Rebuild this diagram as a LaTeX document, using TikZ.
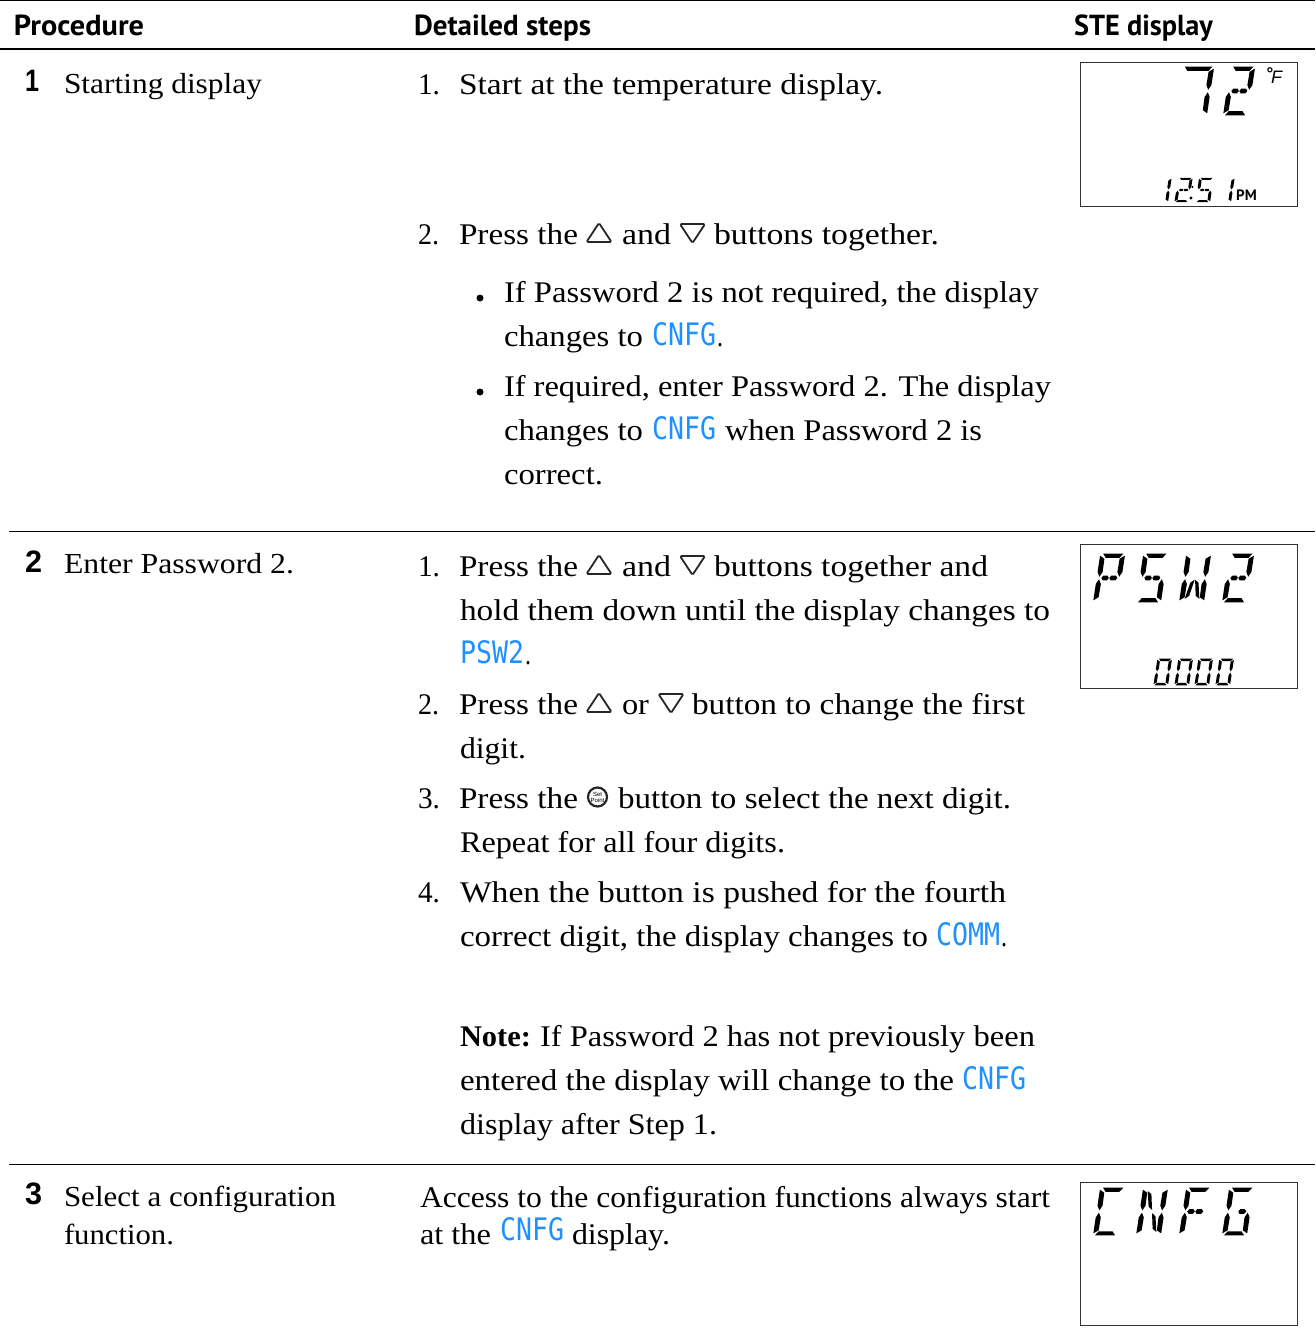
\documentclass[tikz,border=0pt]{standalone}
\usepackage{fontspec}
\usepackage{graphicx}
\setmainfont{Liberation Serif}
\newfontfamily\headfont[FakeStretch=1]{PT Sans}
\newfontfamily\numfont{Liberation Sans}
\newfontfamily\lcdfont[FakeStretch=0.8]{DejaVu Sans Mono}
\definecolor{lcdblue}{HTML}{1E90FF}
\definecolor{framegray}{HTML}{333333}
\tikzset{
  txt/.style={inner sep=0pt,outer sep=0pt,anchor=base west,yshift=0.5pt,font=\fontsize{30}{36}\selectfont},
  head/.style={txt,font=\fontsize{29}{34}\selectfont\headfont\bfseries},
  stepnum/.style={txt,font=\fontsize{31}{36}\selectfont\numfont\bfseries},
  rulethin/.style={line width=1pt,draw=black},
  rulethick/.style={line width=2pt,draw=black},
  lcdframe/.style={draw=framegray,line width=1.2pt,fill=white,inner sep=0pt,outer sep=0pt,anchor=north west,minimum width=217.4pt},
  btn/.style={draw=black!85,line width=1.8pt,rounded corners=1.5pt},
}
% text fitted to its exact extent: #2 name, #3 left, #4 right, #5 baseline, #6 text
\newcommand{\TL}[6][txt]{\node[#1] (#2) at (#3,#5) {\resizebox{\dimexpr #4pt-#3pt\relax}{\height}{#6}};}
% inline LCD word
\newcommand{\LW}[5]{\node[txt] (#1) at (#2,#4) {\resizebox{\dimexpr #3pt-#2pt\relax}{23pt}{\lcdfont\fontsize{32}{36}\selectfont\color{lcdblue}#5}};}
\newcommand{\triup}[3]{\coordinate (#1) at (#2,#3); \draw[btn] ([shift={(0,-3)}]#1) -- ++(25,0) -- ++(-12.5,-19) -- cycle;}
\newcommand{\tridown}[3]{\coordinate (#1) at (#2,#3); \draw[btn] ([shift={(0,-21)}]#1) -- ++(25,0) -- ++(-12.5,19) -- cycle;}
% seven segment cell 10 x 20, y upward
\def\segA{\fill (0.8,20.2) -- (9.7,20.2) -- (8.2,18.4) -- (2.2,18.4) -- cycle;}
\def\segL{\fill (-2.4,20.2) -- (9.7,20.2) -- (8.2,18.4) -- (-1,18.4) -- cycle;}
\def\segD{\fill (0.4,-0.2) -- (9.2,-0.2) -- (7.8,1.6) -- (1.8,1.6) -- cycle;}
\def\segB{\fill (10.4,19.3) -- (10.4,12.5) -- (9.3,10.5) -- (8.2,12.5) -- (8.3,18) -- cycle;}
\def\segC{\fill (10.4,0.7) -- (10.4,7.5) -- (9.3,9.5) -- (8.2,7.5) -- (8.3,2) -- cycle;}
\def\segF{\fill (-0.4,19.3) -- (-0.4,12.5) -- (0.7,10.5) -- (1.8,12.5) -- (1.7,18) -- cycle;}
\def\segE{\fill (-0.4,0.7) -- (-0.4,7.5) -- (0.7,9.5) -- (1.8,7.5) -- (1.7,2) -- cycle;}
\def\segG{\fill (1.6,10) -- (2.4,11) -- (4.2,11) -- (4.9,10) -- (4.2,9) -- (2.4,9) -- cycle;}
\def\segM{\fill (5.1,10) -- (5.8,11) -- (7.8,11) -- (8.6,10) -- (7.8,9) -- (5.8,9) -- cycle;}
\def\segH{\fill (1.8,18.7) -- (3.6,17.4) -- (4.9,10.7) -- (3.2,12) -- cycle;}
\def\segI{\fill (8.2,1.3) -- (6.4,2.6) -- (5.1,9.3) -- (6.8,8) -- cycle;}
\def\segJ{\fill (1.8,1.3) -- (3.6,2.6) -- (4.9,9.3) -- (3.2,8) -- cycle;}
\def\segK{\fill (8.2,1.3) -- (6.4,2.6) -- (5.1,9.3) -- (6.8,8) -- cycle;}
% #1 x at bottom left, #2 baseline, #3 x unit, #4 y unit, #5 segments
\newcommand{\lcdglyph}[5]{\begin{scope}[shift={(#1,#2)},x={(#3pt,0pt)},y={(0.15*#4pt,#4pt)}]
\foreach \s in {#5} {\csname seg\s\endcsname}
\end{scope}}
\begin{document}
\begin{tikzpicture}[x=1pt,y=-1pt]
\useasboundingbox (0,0) rectangle (1315,1340);
% rules
\coordinate (t0) at (0,0.5); \coordinate (t1) at (1315,0.5);
\coordinate (h0) at (0,49.5); \coordinate (h1) at (1315,49.5);
\coordinate (a0) at (9,531.5); \coordinate (a1) at (1315,531.5);
\coordinate (b0) at (9,1164.5); \coordinate (b1) at (1315,1164.5);
\draw[rulethin] (t0) -- (t1);
\draw[rulethick] (h0) -- (h1);
\draw[rulethin] (a0) -- (a1);
\draw[rulethin] (b0) -- (b1);
% headers
\TL[head]{hA}{14}{144}{36}{Procedure}
\TL[head]{hB}{414}{591}{36}{Detailed steps}
\TL[head]{hC}{1074}{1213}{36}{STE display}
% left column
\TL[stepnum]{nA}{25}{39}{92}{1}
\TL[stepnum]{nB}{25}{42}{573}{2}
\TL[stepnum]{nC}{25}{42}{1205}{3}
\TL{lA}{64}{262}{94.5}{\fontsize{29}{34}\selectfont Starting display}
\TL{lB}{64}{294}{574}{\fontsize{29}{34}\selectfont Enter Password 2.}
\TL{lC}{64}{336}{1207}{\fontsize{29}{34}\selectfont Select a configuration}
\TL{lD}{64}{174}{1245}{\fontsize{29}{34}\selectfont function.}
% section 1
\TL{s1a}{418}{440}{95.5}{1.}
\TL{s1b}{459}{883}{95.5}{Start at the temperature display.}
\TL{s2a}{418}{439}{245}{2.}
\TL{s2b}{459}{578}{245}{Press the}
\triup{u1}{586.5}{245}
\TL{s2c}{622}{671}{245}{and}
\tridown{d1}{680}{245}
\TL{s2d}{714}{939}{245}{buttons together.}
\fill (480,298) circle (3.5) coordinate (bu1);
\TL{b1a}{504}{1039}{303}{If Password 2 is not required, the display}
\TL{b1b}{504}{643}{347}{changes to}
\LW{b1c}{652}{716}{346}{CNFG}
\TL{b1d}{717}{723}{347}{.}
\fill (480,392) circle (3.5) coordinate (bu2);
\TL{b2a}{504}{1051}{397}{If required, enter Password 2. The display}
\TL{b2b}{504}{643}{441}{changes to}
\LW{b2c}{652}{716}{440}{CNFG}
\TL{b2d}{725}{982}{441}{when Password 2 is}
\TL{b2e}{504}{603}{485}{correct.}
% section 2
\TL{p1a}{418}{440}{577}{1.}
\TL{p1b}{459}{578}{577}{Press the}
\triup{u2}{586.5}{577}
\TL{p1c}{622}{671}{577}{and}
\tridown{d2}{680}{577}
\TL{p1d}{714}{988}{577}{buttons together and}
\TL{p1e}{460}{1050}{621}{hold them down until the display changes to}
\LW{p1f}{460}{524}{664}{PSW2}
\TL{p1g}{525}{531}{665}{.}
\TL{p2a}{418}{439}{715}{2.}
\TL{p2b}{459}{578}{715}{Press the}
\triup{u3}{586.5}{715}
\TL{p2c}{622}{649}{715}{or}
\tridown{d3}{658.5}{715}
\TL{p2d}{692}{1025}{715}{button to change the first}
\TL{p2e}{460}{526}{759}{digit.}
\TL{p3a}{418}{440}{809}{3.}
\TL{p3b}{459}{578}{809}{Press the}
\node[circle,draw=black!85,line width=2.2pt,minimum size=19pt,inner sep=0pt,align=center,
  font=\fontsize{6}{6}\selectfont\numfont] (sp) at (597.5,797) {Set\\Point};
\TL{p3c}{618}{1011}{809}{button to select the next digit.}
\TL{p3d}{460}{785}{853}{Repeat for all four digits.}
\TL{p4a}{418}{440}{903}{4.}
\TL{p4b}{460}{1006}{903}{When the button is pushed for the fourth}
\TL{p4c}{460}{928}{947}{correct digit, the display changes to}
\LW{p4d}{936}{1000}{946}{COMM}
\TL{p4e}{1001}{1007}{947}{.}
\TL{nt1}{460}{531}{1047}{\bfseries Note:}
\TL{nt2}{540}{1035}{1047}{If Password 2 has not previously been}
\TL{nt3}{460}{954}{1091}{entered the display will change to the}
\LW{nt4}{962}{1026}{1090}{CNFG}
\TL{nt5}{460}{717}{1135}{display after Step 1.}
% section 3
\TL{q1}{420}{1050}{1208}{Access to the configuration functions always start}
\TL{q2}{420}{491}{1245}{at the}
\LW{q3}{500}{564}{1241}{CNFG}
\TL{q4}{572}{670}{1245}{display.}
% LCD frames
\node[lcdframe,minimum height=144pt] (lcdA) at (1080.3,62.7) {};
\node[lcdframe,minimum height=144pt] (lcdB) at (1080.3,544.3) {};
\node[lcdframe,minimum height=143.5pt] (lcdC) at (1080.3,1182.3) {};
% LCD A
\lcdglyph{1183}{115}{2.3}{2.4}{L,B,C}
\lcdglyph{1224}{115}{2.3}{2.4}{A,B,G,M,E,D}
\node[inner sep=0pt,anchor=base west,font=\fontsize{17}{20}\selectfont\numfont\bfseries] (deg) at (1266.5,80) {°};
\node[inner sep=0pt,anchor=base west,font=\fontsize{18}{20}\selectfont\numfont\itshape] (degF) at (1271,84) {F};
\lcdglyph{1154}{202}{1.35}{1.2}{B,C}
\lcdglyph{1175}{202}{1.35}{1.2}{A,B,G,M,E,D}
\fill (1191,198) circle (1.6) coordinate (dotA);
\fill (1192.5,187) circle (1.2) coordinate (dotB);
\lcdglyph{1196}{202}{1.35}{1.2}{A,F,G,M,C,D}
\lcdglyph{1217}{202}{1.35}{1.2}{B,C}
\node[inner sep=0pt,anchor=base west,font=\fontsize{15}{17}\selectfont\headfont\bfseries] (pm) at (1236,201) {PM};
% LCD B
\lcdglyph{1094}{602}{2.3}{2.4}{A,B,F,E,G,M}
\lcdglyph{1137}{602}{2.3}{2.4}{A,F,G,M,C,D}
\lcdglyph{1180}{602}{2.3}{2.4}{F,B,E,C,J,K}
\lcdglyph{1223}{602}{2.3}{2.4}{A,B,G,M,E,D}
\lcdglyph{1154}{685}{1.35}{1.3}{A,B,C,D,E,F}
\lcdglyph{1175}{685}{1.35}{1.3}{A,B,C,D,E,F}
\lcdglyph{1195}{685}{1.35}{1.3}{A,B,C,D,E,F}
\lcdglyph{1216}{685}{1.35}{1.3}{A,B,C,D,E,F}
% LCD C
\lcdglyph{1094}{1235}{2.3}{2.35}{A,F,E,D}
\lcdglyph{1137}{1235}{2.3}{2.35}{F,E,B,C,H,I}
\lcdglyph{1180}{1235}{2.3}{2.35}{A,F,E,G,M}
\lcdglyph{1223}{1235}{2.3}{2.35}{A,F,E,D,C,M}
\end{tikzpicture}
\end{document}
